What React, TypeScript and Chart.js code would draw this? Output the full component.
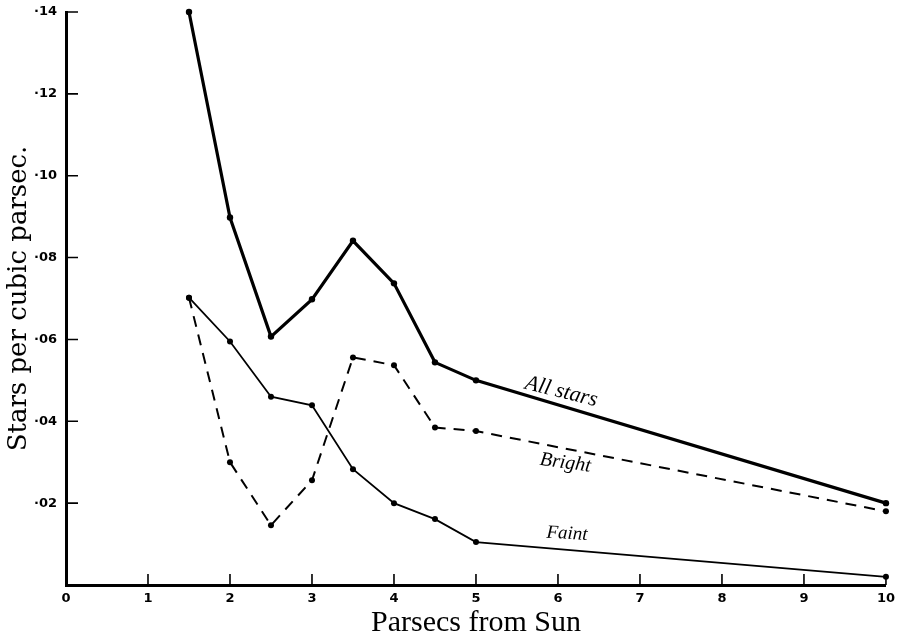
import { useEffect, useRef } from 'react';
import { Chart, registerables } from 'chart.js';

Chart.register(...registerables);

// Distance from the Sun (parsecs)
const distances = [1.5, 2, 2.5, 3, 3.5, 4, 4.5, 5, 10];
// Stars per cubic parsec
const allStars = [0.14, 0.0898, 0.0607, 0.0698, 0.0841, 0.0737, 0.0544, 0.05, 0.02];
const brightStars = [0.0702, 0.03, 0.0146, 0.0256, 0.0556, 0.0537, 0.0385, 0.0376, 0.018];
const faintStars = [0.0702, 0.0595, 0.046, 0.0439, 0.0283, 0.02, 0.0161, 0.0105, 0.002];

const xTicks = [1, 2, 3, 4, 5, 6, 7, 8, 9, 10];
const yTicks = [0.02, 0.04, 0.06, 0.08, 0.1, 0.12, 0.14];

const seriesNames = ['All stars', 'Bright', 'Faint'];
const labelX = [6.04, 6.09, 6.11];
const labelY = [0.0472, 0.0298, 0.0125];
const labelAngle = [14, 8, 3];
const labelSize = [22, 20, 19];

const xTitle = 'Parsecs from Sun';
const yTitle = 'Stars per cubic parsec.';

const toPoints = (ys: number[]) => distances.map((x, i) => ({ x, y: ys[i] }));

const innerTicks = {
  id: 'innerTicks',
  afterDraw(chart: any) {
    const { ctx, scales, chartArea } = chart;
    ctx.save();
    ctx.strokeStyle = '#000';
    ctx.lineWidth = 1.6;
    ctx.beginPath();
    xTicks.forEach((v) => {
      const px = scales.x.getPixelForValue(v);
      ctx.moveTo(px, chartArea.bottom);
      ctx.lineTo(px, chartArea.bottom - 11);
    });
    yTicks.forEach((v) => {
      const py = scales.y.getPixelForValue(v);
      ctx.moveTo(chartArea.left, py);
      ctx.lineTo(chartArea.left + 12, py);
    });
    ctx.stroke();

    ctx.fillStyle = '#000';
    ctx.textAlign = 'center';
    ctx.textBaseline = 'middle';
    seriesNames.forEach((name, i) => {
      const px = scales.x.getPixelForValue(labelX[i]);
      const py = scales.y.getPixelForValue(labelY[i]);
      ctx.save();
      ctx.translate(px, py);
      ctx.rotate((labelAngle[i] * Math.PI) / 180);
      ctx.font = `italic ${labelSize[i]}px "Liberation Serif", serif`;
      ctx.fillText(name, 0, 0);
      ctx.restore();
    });
    ctx.restore();
  },
};

export default function App() {
  const ref = useRef<HTMLCanvasElement | null>(null);

  useEffect(() => {
    if (!ref.current) return;
    const tickFont = { family: '"DejaVu Sans", sans-serif', size: 13, weight: 'bold' as const };
    const chart = new Chart(ref.current, {
      type: 'line',
      data: {
        datasets: [
          {
            label: seriesNames[0],
            data: toPoints(allStars),
            borderColor: '#000',
            backgroundColor: '#000',
            borderWidth: 3.2,
            pointRadius: 3.2,
            pointBackgroundColor: '#000',
            pointBorderWidth: 0,
            clip: false,
          },
          {
            label: seriesNames[1],
            data: toPoints(brightStars),
            borderColor: '#000',
            backgroundColor: '#000',
            borderWidth: 2,
            borderDash: [11, 8],
            pointRadius: 3,
            pointBackgroundColor: '#000',
            pointBorderWidth: 0,
            clip: false,
          },
          {
            label: seriesNames[2],
            data: toPoints(faintStars),
            borderColor: '#000',
            backgroundColor: '#000',
            borderWidth: 1.8,
            pointRadius: 3,
            pointBackgroundColor: '#000',
            pointBorderWidth: 0,
            clip: false,
          },
        ],
      },
      options: {
        animation: false,
        responsive: true,
        maintainAspectRatio: false,
        layout: { padding: { top: 12, right: 15, left: 0, bottom: 0 } },
        plugins: {
          legend: { display: false },
          tooltip: { enabled: false },
        },
        scales: {
          x: {
            type: 'linear',
            min: 0,
            max: 10,
            grid: { display: false, drawTicks: false },
            border: { display: true, color: '#000', width: 3 },
            ticks: {
              stepSize: 1,
              autoSkip: false,
              maxRotation: 0,
              padding: 6,
              color: '#000',
              font: tickFont,
            },
            title: {
              display: true,
              text: xTitle,
              color: '#000',
              font: { family: '"Liberation Serif", serif', size: 30, lineHeight: 1 },
              padding: { top: 0, bottom: 1 },
            },
            afterFit: (s: any) => {
              s.height = 54;
            },
          },
          y: {
            type: 'linear',
            min: 0,
            max: 0.14,
            grid: { display: false, drawTicks: false },
            border: { display: true, color: '#000', width: 3 },
            ticks: {
              stepSize: 0.02,
              autoSkip: false,
              padding: 9,
              color: '#000',
              font: tickFont,
              callback: (v: any) =>
                Number(v) === 0 ? '' : '\u00b7' + String(Math.round(Number(v) * 100)).padStart(2, '0'),
            },
            title: {
              display: true,
              text: yTitle,
              color: '#000',
              font: { family: '"DejaVu Serif", serif', size: 26, lineHeight: 1.2 },
              padding: { top: 4, bottom: 0 },
            },
            afterFit: (s: any) => {
              s.width = 66;
              s.paddingTop = 0;
              s.paddingBottom = 0;
            },
          },
        },
      },
      plugins: [innerTicks],
    });
    return () => chart.destroy();
  }, []);

  return (
    <div style={{ position: 'fixed', left: 0, top: 0, width: 901, height: 639, background: '#fff' }}>
      <canvas ref={ref} />
    </div>
  );
}
